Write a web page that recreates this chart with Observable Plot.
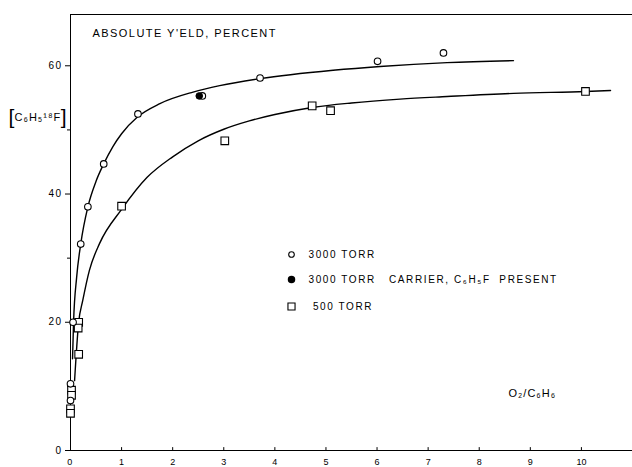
<!DOCTYPE html>
<html><head><meta charset="utf-8">
<script src="https://cdn.jsdelivr.net/npm/d3@7"></script>
<script src="https://cdn.jsdelivr.net/npm/@observablehq/plot@0.6"></script>
<style>body{margin:0;background:#fff}</style>
</head><body><div id="chart"></div>
<script>
// Axis ticks
const xTicks = [0, 1, 2, 3, 4, 5, 6, 7, 8, 9, 10];
const yTicks = [0, 20, 40, 60];
const yMinorTicks = [10, 30, 50];

// Texts
const titleText = "ABSOLUTE Y'ELD, PERCENT";
const yLabelText = "C\u2086H\u2085\u00b9\u2078F";
const xLabelText = "O\u2082/C\u2086H\u2086";
const legendLabels = ["3000 TORR", "3000 TORR\u00a0\u00a0 CARRIER, C\u2086H\u2085F\u00a0 PRESENT", "\u00a0500 TORR"];

// 3000 TORR data points (open circles)
const torr3000X = [0.0, 0.0, 0.05, 0.2, 0.34, 0.65, 1.32, 2.58, 3.71, 6.01, 7.3];
const torr3000Y = [10.4, 7.8, 20.0, 32.2, 38.0, 44.7, 52.5, 55.3, 58.1, 60.7, 62.0];

// 3000 TORR with carrier C6H5F present (filled circle)
const carrierX = [2.52];
const carrierY = [55.3];

// 500 TORR data points (open squares)
const torr500X = [0.02, 0.02, 0.0, 0.0, 0.16, 0.15, 0.16, 1.0, 3.02, 4.73, 5.09, 10.08];
const torr500Y = [9.4, 8.6, 6.5, 5.8, 20.0, 19.1, 15.0, 38.1, 48.3, 53.75, 53.0, 56.0];

// Fitted curve, 3000 TORR
const curve3000X = [0.04, 0.06, 0.12, 0.2, 0.34, 0.5, 0.65, 0.83, 1.0, 1.31, 1.75, 2.4, 2.92, 3.71, 5.14, 6.06, 7.37, 8.67];
const curve3000Y = [14.3, 20.0, 27.0, 32.2, 38.0, 42.0, 44.7, 47.4, 49.4, 52.0, 54.1, 55.9, 56.9, 58.0, 59.3, 59.9, 60.5, 60.8];

// Fitted curve, 500 TORR
const curve500X = [0.08, 0.16, 0.24, 0.37, 0.57, 1.0, 1.5, 2.0, 2.5, 3.0, 3.5, 4.0, 4.73, 5.5, 6.45, 7.37, 8.67, 10.08, 10.57];
const curve500Y = [10.9, 20.0, 23.4, 28.1, 32.3, 37.6, 42.6, 45.8, 48.3, 50.1, 51.4, 52.4, 53.5, 54.2, 54.8, 55.2, 55.7, 56.0, 56.15];

const zip = (xs, ys) => xs.map((x, i) => ({x, y: ys[i]}));
const c3000 = zip(curve3000X, curve3000Y);
const c500 = zip(curve500X, curve500Y);
const p3000 = zip(torr3000X, torr3000Y);
const pCarrier = zip(carrierX, carrierY);
const p500 = zip(torr500X, torr500Y);

const font = "Liberation Sans, Arial, sans-serif";

const chart = Plot.plot({
  width: 632,
  height: 467,
  marginLeft: 70,
  marginRight: 0,
  marginTop: 14,
  marginBottom: 17,
  x: {domain: [0, 11]},
  y: {domain: [0, 68]},
  style: {fontFamily: font, background: "white", color: "black"},
  marks: [
    // frame lines
    Plot.ruleY([0], {stroke: "black", strokeWidth: 1.2}),
    Plot.ruleY([68], {stroke: "black", strokeWidth: 1.2}),
    Plot.ruleX([0], {stroke: "black", strokeWidth: 1}),
    // axes
    Plot.axisX({ticks: xTicks, tickSize: 0, tickPadding: 8, fontSize: 9, label: null}),
    Plot.ruleX(xTicks, {x: d => d, y1: 0, y2: 0.45, stroke: "black"}),
    Plot.axisY({ticks: yTicks, tickSize: 5, tickPadding: 3, fontSize: 10, label: null}),
    Plot.axisY({ticks: yMinorTicks, tickSize: 3, tickFormat: () => "", label: null}),
    // curves
    Plot.line(c3000, {x: "x", y: "y", curve: "monotone-x", stroke: "black", strokeWidth: 1.4}),
    Plot.line(c500, {x: "x", y: "y", curve: "monotone-x", stroke: "black", strokeWidth: 1.4}),
    // points
    Plot.dot(p500, {x: "x", y: "y", symbol: "square", r: 4.3, fill: "white", stroke: "black", strokeWidth: 1.1}),
    Plot.dot(p3000, {x: "x", y: "y", r: 3.3, fill: "white", stroke: "black", strokeWidth: 1.1}),
    Plot.dot(pCarrier, {x: "x", y: "y", r: 3.3, fill: "black", stroke: "black", strokeWidth: 1}),
    // title
    Plot.text([titleText], {frameAnchor: "top-left", dx: 22, dy: 19, text: d => d, textAnchor: "start", lineAnchor: "middle", fontSize: 11}),
    // y label
    Plot.text(["["], {frameAnchor: "top-left", dx: -62, dy: 103, text: d => d, textAnchor: "start", lineAnchor: "middle", fontSize: 21, fontWeight: 300}),
    Plot.text([yLabelText], {frameAnchor: "top-left", dx: -56, dy: 103, text: d => d, textAnchor: "start", lineAnchor: "middle", fontSize: 11}),
    Plot.text(["]"], {frameAnchor: "top-left", dx: -4, dy: 103, text: d => d, textAnchor: "end", lineAnchor: "middle", fontSize: 21, fontWeight: 300}),
    // x label
    Plot.text([xLabelText], {frameAnchor: "top-left", dx: 438, dy: 379, text: d => d, textAnchor: "start", lineAnchor: "middle", fontSize: 11}),
    // legend
    Plot.dot([0], {frameAnchor: "top-left", dx: 221, dy: 240, r: 2.8, fill: "white", stroke: "black", strokeWidth: 1.1}),
    Plot.dot([0], {frameAnchor: "top-left", dx: 221, dy: 265, r: 3, fill: "black", stroke: "black"}),
    Plot.dot([0], {frameAnchor: "top-left", dx: 221, dy: 292, symbol: "square", r: 4, fill: "white", stroke: "black", strokeWidth: 1.1}),
    Plot.text([legendLabels[0]], {frameAnchor: "top-left", dx: 238, dy: 240, text: d => d, textAnchor: "start", lineAnchor: "middle", fontSize: 10}),
    Plot.text([legendLabels[1]], {frameAnchor: "top-left", dx: 238, dy: 265, text: d => d, textAnchor: "start", lineAnchor: "middle", fontSize: 10}),
    Plot.text([legendLabels[2]], {frameAnchor: "top-left", dx: 238, dy: 292, text: d => d, textAnchor: "start", lineAnchor: "middle", fontSize: 10})
  ]
});

document.getElementById("chart").appendChild(chart);
const spacing = new Map([
  [titleText, "1.45px"],
  [legendLabels[0], "1.6px"],
  [legendLabels[1], "1.6px"],
  [legendLabels[2], "1.6px"],
  [yLabelText, "1px"],
  [xLabelText, "1px"]
]);
d3.select(chart).selectAll("text").each(function () {
  const t = this.textContent;
  if (spacing.has(t)) this.setAttribute("letter-spacing", spacing.get(t));
  else if (yTicks.map(String).includes(t)) this.setAttribute("letter-spacing", "1.5px");
});
</script>
</body></html>
